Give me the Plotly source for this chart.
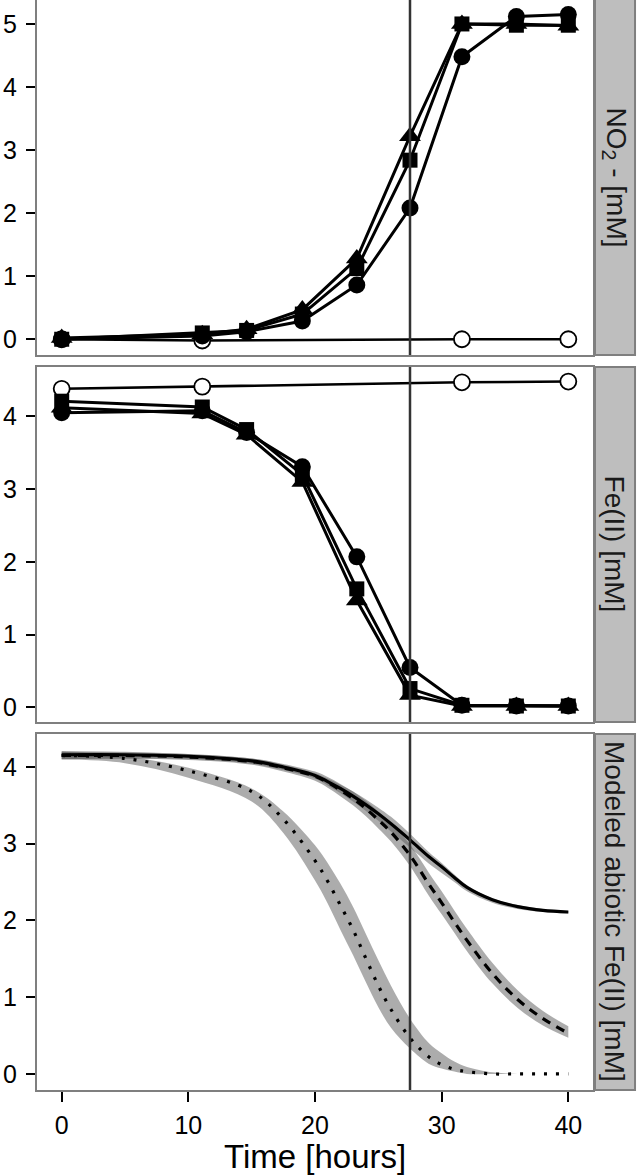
import plotly.graph_objects as go
from plotly.subplots import make_subplots

FONT = "Liberation Sans, Arial, Helvetica, sans-serif"
BORDER = "#7f7f7f"
BAND = "rgba(95,95,95,0.52)"

# sampling times [hours]
time = [0, 11.1, 14.6, 19.0, 23.3, 27.5, 31.6, 35.9, 40.0]
time_abiotic = [0, 11.1, 31.6, 40.0]

# nitrite [mM]
no2_circle = [0.0, 0.05, 0.12, 0.29, 0.86, 2.08, 4.48, 5.12, 5.15]
no2_square = [0.0, 0.10, 0.14, 0.40, 1.12, 2.84, 5.00, 4.98, 4.98]
no2_triangle = [0.02, 0.08, 0.16, 0.47, 1.28, 3.22, 5.00, 5.00, 4.97]
no2_abiotic = [0.0, -0.02, 0.0, 0.0]

# Fe(II) [mM]
fe_circle = [4.05, 4.08, 3.78, 3.31, 2.07, 0.55, 0.03, 0.02, 0.02]
fe_square = [4.21, 4.13, 3.82, 3.20, 1.63, 0.26, 0.03, 0.02, 0.02]
fe_triangle = [4.12, 4.04, 3.75, 3.10, 1.47, 0.17, 0.02, 0.02, 0.02]
fe_abiotic = [4.38, 4.41, 4.47, 4.48]

# modeled abiotic Fe(II) [mM]
model_time = [0, 5, 10, 15, 17.5, 20, 21, 22, 23, 24, 25, 26, 27.5, 29, 30, 31, 32, 34, 36, 38, 40]
solid_mid = [4.16, 4.16, 4.14, 4.08, 4.00, 3.89, 3.81, 3.72, 3.62, 3.51, 3.39, 3.26, 3.05, 2.83, 2.70, 2.56, 2.43, 2.27, 2.18, 2.13, 2.11]
solid_lo = [4.10, 4.11, 4.10, 4.04, 3.96, 3.85, 3.76, 3.66, 3.55, 3.43, 3.30, 3.16, 2.95, 2.74, 2.62, 2.50, 2.38, 2.23, 2.15, 2.11, 2.09]
solid_hi = [4.21, 4.20, 4.17, 4.11, 4.03, 3.92, 3.85, 3.77, 3.68, 3.58, 3.47, 3.35, 3.13, 2.89, 2.75, 2.60, 2.46, 2.29, 2.20, 2.15, 2.12]
dash_mid = [4.15, 4.15, 4.13, 4.07, 3.99, 3.88, 3.80, 3.70, 3.59, 3.46, 3.31, 3.15, 2.85, 2.47, 2.23, 1.98, 1.74, 1.31, 0.97, 0.72, 0.53]
dash_lo = [4.10, 4.11, 4.09, 4.03, 3.94, 3.82, 3.73, 3.62, 3.50, 3.36, 3.20, 3.03, 2.71, 2.32, 2.08, 1.84, 1.60, 1.18, 0.86, 0.63, 0.47]
dash_hi = [4.20, 4.19, 4.17, 4.11, 4.04, 3.94, 3.87, 3.78, 3.68, 3.56, 3.42, 3.27, 2.99, 2.62, 2.38, 2.13, 1.89, 1.45, 1.09, 0.82, 0.62]
dot_mid = [4.15, 4.11, 3.95, 3.68, 3.32, 2.78, 2.51, 2.20, 1.88, 1.51, 1.15, 0.84, 0.47, 0.22, 0.12, 0.06, 0.03, 0.0, 0.0, 0.0, 0.0]
dot_lo = [4.10, 4.05, 3.86, 3.55, 3.14, 2.52, 2.22, 1.88, 1.55, 1.20, 0.87, 0.60, 0.33, 0.13, 0.07, 0.03, 0.0, 0.0, 0.0, 0.0, 0.0]
dot_hi = [4.20, 4.14, 3.99, 3.72, 3.42, 2.98, 2.75, 2.48, 2.18, 1.83, 1.48, 1.15, 0.72, 0.40, 0.27, 0.16, 0.09, 0.02, 0.0, 0.0, 0.0]

strip_labels = ["NO<sub>2</sub> - [mM]", "Fe(II) [mM]", "Modeled abiotic Fe(II) [mM]"]
y_ranges = [[-0.25, 5.38], [-0.2, 4.68], [-0.21, 4.43]]
y_domains = [[0.6743, 1.0], [0.3376, 0.6633], [0.0, 0.3266]]
x_right = 0.9267

fig = make_subplots(rows=3, cols=1, shared_xaxes=True)


def add_measured(row, circle, square, triangle, abiotic):
    fig.add_trace(go.Scatter(
        x=time_abiotic, y=abiotic, mode="lines+markers",
        line=dict(color="black", width=2.6),
        marker=dict(symbol="circle", size=16, color="white", line=dict(color="black", width=1.8)),
    ), row=row, col=1)
    for vals, sym, size in [(circle, "circle", 17), (square, "square", 15), (triangle, "triangle-up", 19)]:
        fig.add_trace(go.Scatter(
            x=time, y=vals, mode="lines+markers",
            line=dict(color="black", width=3),
            marker=dict(symbol=sym, size=size, color="black", line=dict(width=0)),
        ), row=row, col=1)


add_measured(1, no2_circle, no2_square, no2_triangle, no2_abiotic)
add_measured(2, fe_circle, fe_square, fe_triangle, fe_abiotic)

for lo, hi in [(dot_lo, dot_hi), (dash_lo, dash_hi), (solid_lo, solid_hi)]:
    fig.add_trace(go.Scatter(x=model_time, y=lo, mode="lines", line=dict(width=0, shape="spline"),
                             hoverinfo="skip"), row=3, col=1)
    fig.add_trace(go.Scatter(x=model_time, y=hi, mode="lines", line=dict(width=0, shape="spline"),
                             fill="tonexty", fillcolor=BAND, hoverinfo="skip"), row=3, col=1)

for mid, dash in [(dot_mid, "3px,9px"), (dash_mid, "9px,7px"), (solid_mid, "solid")]:
    fig.add_trace(go.Scatter(x=model_time, y=mid, mode="lines",
                             line=dict(color="black", width=3.2, dash=dash, shape="spline")), row=3, col=1)

for i in range(3):
    r = i + 1
    fig.update_yaxes(range=y_ranges[i], domain=y_domains[i], dtick=1, showgrid=False, zeroline=False,
                     showline=True, mirror=True, linecolor=BORDER, linewidth=2, automargin=False,
                     ticks="outside", ticklen=9, tickwidth=2.2, tickcolor="black",
                     tickfont=dict(family=FONT, size=25, color="black"), ticklabelstandoff=4,
                     row=r, col=1)
    fig.update_xaxes(range=[-1.95, 41.95], domain=[0, x_right], dtick=10, showgrid=False, zeroline=False,
                     showline=True, mirror=True, linecolor=BORDER, linewidth=2, automargin=False,
                     ticks="outside" if r == 3 else "", ticklen=10, tickwidth=2.2, tickcolor="black",
                     showticklabels=(r == 3),
                     tickfont=dict(family=FONT, size=25, color="black"), ticklabelstandoff=2,
                     row=r, col=1)
    # vertical marker at 27.5 h
    fig.add_vline(x=27.5, line=dict(color="#333333", width=2.5), row=r, col=1)
    # facet strip
    fig.add_shape(type="rect", xref="paper", yref="paper", x0=0.93, x1=0.9967,
                  y0=y_domains[i][0], y1=y_domains[i][1] + (0.01 if i == 0 else 0),
                  fillcolor="#bebebe", line=dict(color=BORDER, width=2), layer="below")
    fig.add_annotation(xref="paper", yref="paper", x=0.9633, y=sum(y_domains[i]) / 2,
                       xanchor="center", yanchor="middle",
                       text=strip_labels[i], textangle=90, showarrow=False,
                       font=dict(family=FONT, size=28, color="#1a1a1a"))

# x axis title
fig.add_annotation(xref="paper", yref="paper", x=x_right / 2, y=-0.061,
                   xanchor="center", yanchor="middle", showarrow=False,
                   text="Time [hours]", font=dict(family=FONT, size=33, color="black"))

fig.update_layout(
    width=637, height=1175,
    margin=dict(l=37, r=0, t=0, b=85),
    paper_bgcolor="white", plot_bgcolor="white",
    showlegend=False,
)

# drop the default page margin so the figure sits at the window's corner
fig.write_html("out.html", config={"displayModeBar": False},
               post_script="document.body.style.margin='0';")
